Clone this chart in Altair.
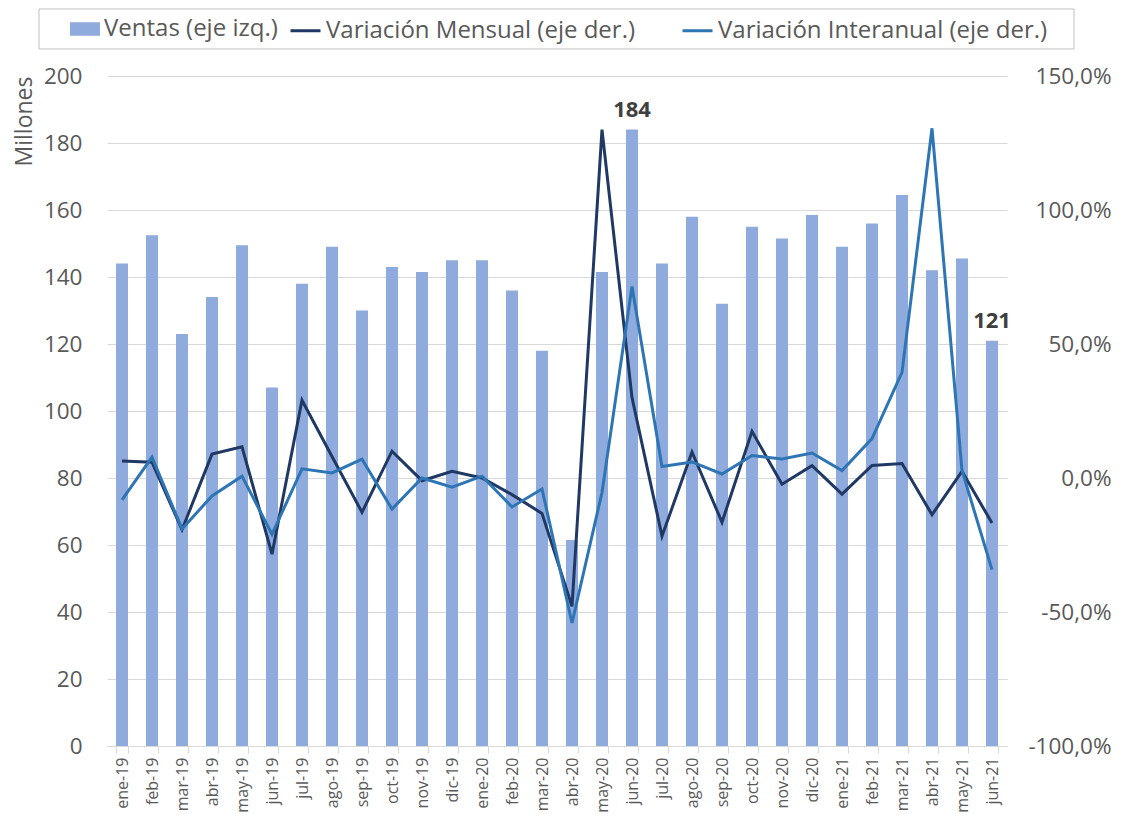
import altair as alt
import pandas as pd

meses = ["ene-19", "feb-19", "mar-19", "abr-19", "may-19", "jun-19", "jul-19", "ago-19",
         "sep-19", "oct-19", "nov-19", "dic-19", "ene-20", "feb-20", "mar-20", "abr-20",
         "may-20", "jun-20", "jul-20", "ago-20", "sep-20", "oct-20", "nov-20", "dic-20",
         "ene-21", "feb-21", "mar-21", "abr-21", "may-21", "jun-21"]
ventas = [144, 152.5, 123, 134, 149.5, 107, 138, 149, 130, 143, 141.5, 145, 145, 136, 118,
          61.5, 141.5, 184, 144, 158, 132, 155, 151.5, 158.5, 149, 156, 164.5, 142, 145.5, 121]
var_mensual = [6.3, 5.9, -19.3, 8.9, 11.6, -28.4, 29.0, 8.0, -12.8, 10.0, -1.0, 2.5, 0.0,
               -6.2, -13.2, -47.9, 130.0, 30.0, -21.7, 9.7, -16.5, 17.4, -2.3, 4.6, -6.0,
               4.7, 5.4, -13.7, 2.5, -16.8]
var_interanual = [-8.2, 7.8, -19.0, -6.7, 0.7, -21.0, 3.4, 1.9, 7.0, -11.6, 0.0, -3.4, 0.7,
                  -10.8, -4.1, -54.1, -5.4, 71.5, 4.3, 6.0, 1.5, 8.4, 7.1, 9.3, 2.8, 14.7,
                  39.4, 130.5, 2.8, -34.2]
etiquetas = [""] * 17 + ["184"] + [""] * 11 + ["121"]

S_V = "Ventas (eje izq.)"
S_M = "Variación Mensual (eje der.)"
S_I = "Variación Interanual (eje der.)"

df = pd.DataFrame({
    "mes": meses, "ventas": ventas, "mensual": var_mensual,
    "interanual": var_interanual, "etiqueta": etiquetas,
})
df["sv"] = S_V
df["sm"] = S_M
df["si"] = S_I

FONT = "Open Sans"
GRIS = "#595959"

fill_scale = alt.Scale(domain=[S_V], range=["#8FAADC"])
stroke_scale = alt.Scale(domain=[S_M, S_I], range=["#203864", "#2E75B6"])

legend_common = dict(title=None, orient="none", direction="horizontal", symbolSize=900,
                     labelFont=FONT, labelFontSize=24, labelColor=GRIS, padding=0,
                     labelOffset=4, labelLimit=0, columnPadding=40)
legend_fill = alt.Legend(legendX=-37, legendY=-62,
                         symbolType="M-1,-0.45L1,-0.45L1,0.45L-1,0.45Z",
                         symbolStrokeWidth=0, **legend_common)
legend_stroke = alt.Legend(legendX=182, legendY=-62, symbolType="stroke",
                           symbolStrokeWidth=3, **legend_common)

x = alt.X("mes:N", sort=meses,
          scale=alt.Scale(paddingInner=0.6, paddingOuter=0.3),
          axis=alt.Axis(title=None, labelAngle=-90, labelFont=FONT, labelFontSize=16,
                        labelColor=GRIS, domainColor="#D9D9D9", tickColor="#D9D9D9",
                        tickSize=7, tickBand="extent", labelPadding=4, grid=False))

base = alt.Chart(df)

bars = base.mark_bar().encode(
    x=x,
    y=alt.Y("ventas:Q", scale=alt.Scale(domain=[0, 200], nice=False),
            axis=alt.Axis(title="Millones", values=list(range(0, 201, 20)), format="d",
                          grid=True, gridColor="#D9D9D9", domain=False, ticks=False,
                          labelPadding=25, labelFont=FONT, labelFontSize=22.5, labelColor=GRIS,
                          titleFont=FONT, titleFontSize=23, titleColor=GRIS,
                          titleFontWeight="normal", titleAnchor="end", titlePadding=7)),
    fill=alt.Fill("sv:N", scale=fill_scale, legend=legend_fill),
)

labels = base.mark_text(font=FONT, fontSize=22, fontWeight="bold", color="#404040",
                        baseline="bottom", dy=-8).encode(
    x=x, y=alt.Y("ventas:Q"), text="etiqueta:N")

frame = alt.Chart(pd.DataFrame({"k": [0]})).mark_rect(
    filled=False, stroke="#BFBFBF", strokeWidth=1).encode(
    x=alt.value(-68), x2=alt.value(967), y=alt.value(-67), y2=alt.value(-27))

right_axis = alt.Axis(
    title=None, orient="right", values=[-100, -50, 0, 50, 100, 150], grid=False,
    domain=False, ticks=False, labelAlign="right", labelPadding=104,
    labelFont=FONT, labelFontSize=22.5, labelColor=GRIS,
    labelExpr="replace(replace(format(datum.value, '.1f'), '.', ','), '\u2212', '-') + '%'")
y_scale_r = alt.Scale(domain=[-100, 150], nice=False)

line_m = base.mark_line(strokeWidth=3).encode(
    x=x, y=alt.Y("mensual:Q", scale=y_scale_r, axis=right_axis),
    stroke=alt.Stroke("sm:N", scale=stroke_scale, legend=legend_stroke))
line_i = base.mark_line(strokeWidth=3).encode(
    x=x, y=alt.Y("interanual:Q", scale=y_scale_r, axis=right_axis),
    stroke=alt.Stroke("si:N", scale=stroke_scale, legend=legend_stroke))

left = alt.layer(bars, labels, frame)
right = alt.layer(line_m, line_i)

chart = alt.layer(left, right).resolve_scale(y="independent").properties(
    width=900, height=670,
    padding={"left": 5, "top": 0, "right": 0, "bottom": 2},
).configure_view(stroke=None)

chart.save("out.html", embed_options={"renderer": "svg", "actions": False})
